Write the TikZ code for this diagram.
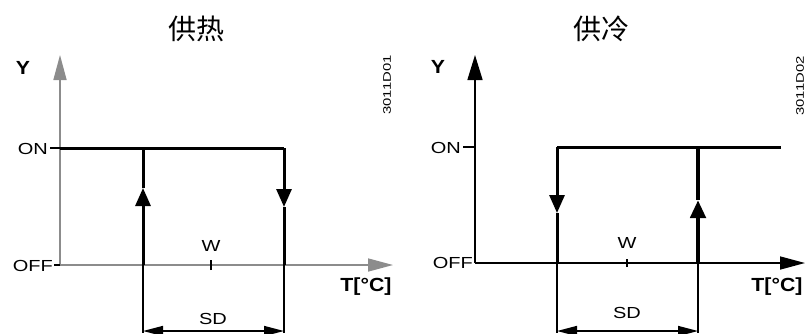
\documentclass[tikz,border=0pt]{standalone}
\usepackage{fontspec}
\setmainfont{Liberation Sans}
\newfontfamily\cjk{Noto Sans CJK SC}
\newfontfamily\widefont[FakeStretch=1.25]{Liberation Sans}
\newfontfamily\codefont[FakeStretch=1.35]{Liberation Sans}
\newfontfamily\boldwide[FakeStretch=1.12]{Liberation Sans Bold}
\usepackage{tikz}
\usetikzlibrary{positioning,arrows.meta}
\tikzstyle{axis} = [draw, line width=1.6pt, -{Triangle[length=25pt,width=13pt]}]
\tikzstyle{switch} = [draw, line width=3pt]
\tikzstyle{flow} = [draw, line width=3pt, -{Triangle[length=18pt,width=15pt]}]
\tikzstyle{dim} = [draw, line width=1.1pt]
\tikzstyle{sdline} = [draw, line width=1.6pt, {Triangle[length=20pt,width=10pt]}-{Triangle[length=20pt,width=10pt]}]
\tikzstyle{tick} = [draw, line width=1.4pt]
\tikzstyle{level} = [font=\widefont\fontsize{16}{16}\selectfont, inner sep=1pt, anchor=east]
\tikzstyle{pointlabel} = [font=\widefont\fontsize{16}{16}\selectfont, inner sep=0pt]
\tikzstyle{axlabel} = [font=\boldwide\fontsize{19}{19}\selectfont, inner sep=0pt]
\tikzstyle{title} = [font=\cjk\fontsize{28}{28}\selectfont, inner sep=0pt]
\tikzstyle{code} = [font=\codefont\fontsize{11}{11}\selectfont, rotate=90, inner sep=0pt]

\begin{document}
\begin{tikzpicture}[x=1pt, y=-1pt]
    \useasboundingbox (0,0) rectangle (810,333);
    % Heating: place points
    \coordinate (h-orig) at (60,265);
    \coordinate (h-ytop) at (60,55);
    \coordinate (h-xend) at (393,265);
    \coordinate (h-on) at (60,148);
    \coordinate (h-a) at (143,265);
    \coordinate (h-aon) at (143,148);
    \coordinate (h-amid) at (143,188);
    \coordinate (h-b) at (284,265);
    \coordinate (h-bon) at (284,148);
    \coordinate (h-bmid) at (284,207);
    \coordinate (h-alow) at (143,333);
    \coordinate (h-blow) at (284,333);
    \coordinate (h-sda) at (143,331);
    \coordinate (h-sdb) at (284,331);
    \coordinate (h-w) at (211,265);
    % Heating: labels
    \node [title] (h-title) at (196,29) {供热};
    \node [axlabel] (h-y) at (23,68) {Y};
    \node [axlabel] (h-t) at (366,287) {T[°C]};
    \node [level] (h-onl) at (49,149) {ON};
    \node [level] (h-offl) at (54,266) {OFF};
    \node [pointlabel] (h-wl) at (211,246) {W};
    \node [pointlabel] (h-sd) at (213,319) {SD};
    \node [code] (h-code) at (387,85) {3011D01};
    % Heating: draw edges
    \path [axis, draw=black!45] (h-orig) -- (h-ytop);
    \path [axis, draw=black!45] (h-orig) -- (h-xend);
    \path [tick] (h-on) -- ++(-10,0);
    \path [tick] (h-orig) -- ++(-6,0);
    \path [tick] ([yshift=-5pt]h-w) -- ([yshift=5pt]h-w);
    \path [switch] (h-on) -- (h-bon);
    \path [flow] (h-a) -- (h-amid);
    \path [switch] (h-amid) -- (h-aon);
    \path [flow] (h-bon) -- (h-bmid);
    \path [switch] (h-bmid) -- (h-b);
    \path [dim] (h-a) -- (h-alow);
    \path [dim] (h-b) -- (h-blow);
    \path [sdline] (h-sda) -- (h-sdb);

    % Cooling: place points
    \coordinate (c-orig) at (475,263);
    \coordinate (c-ytop) at (475,55);
    \coordinate (c-xend) at (805,263);
    \coordinate (c-on) at (475,147);
    \coordinate (c-a) at (557,263);
    \coordinate (c-aon) at (557,147);
    \coordinate (c-amid) at (557,213);
    \coordinate (c-b) at (698,263);
    \coordinate (c-bon) at (698,147);
    \coordinate (c-bmid) at (698,200);
    \coordinate (c-onend) at (781,147);
    \coordinate (c-alow) at (557,333);
    \coordinate (c-blow) at (698,333);
    \coordinate (c-sda) at (557,331);
    \coordinate (c-sdb) at (698,331);
    \coordinate (c-w) at (627,263);
    % Cooling: labels
    \node [title] (c-title) at (601,29) {供冷};
    \node [axlabel] (c-y) at (438,67) {Y};
    \node [axlabel] (c-t) at (777,287) {T[°C]};
    \node [level] (c-onl) at (462,148) {ON};
    \node [level] (c-offl) at (474,263) {OFF};
    \node [pointlabel] (c-wl) at (627,243) {W};
    \node [pointlabel] (c-sd) at (627,313) {SD};
    \node [code] (c-code) at (800,86) {3011D02};
    % Cooling: draw edges
    \path [axis, -{Triangle[length=25pt,width=15pt]}] (c-orig) -- (c-ytop);
    \path [axis] (c-orig) -- (c-xend);
    \path [tick] (c-on) -- ++(-12,0);
    \path [tick] ([yshift=-4pt]c-w) -- ([yshift=4pt]c-w);
    \path [switch] (c-aon) -- (c-onend);
    \path [flow] (c-aon) -- (c-amid);
    \path [switch] (c-amid) -- (c-a);
    \path [flow, line width=4.5pt] (c-b) -- (c-bmid);
    \path [switch, line width=4.5pt] (c-bmid) -- (c-bon);
    \path [dim] (c-a) -- (c-alow);
    \path [dim] (c-b) -- (c-blow);
    \path [sdline] (c-sda) -- (c-sdb);
\end{tikzpicture}
\end{document}
